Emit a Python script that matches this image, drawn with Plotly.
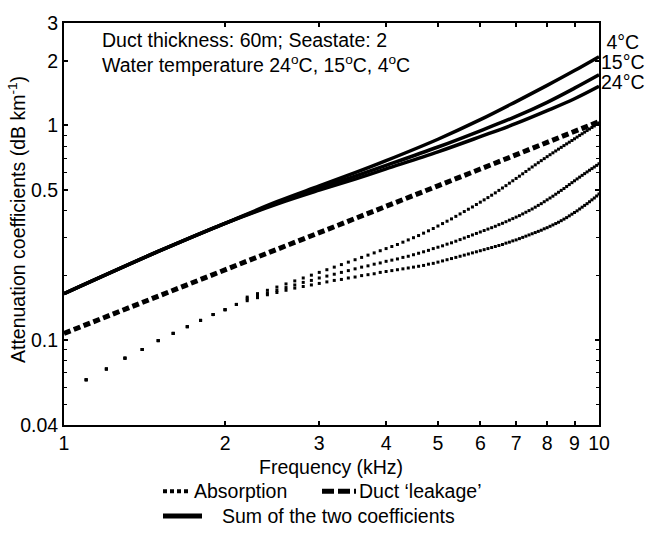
import plotly.graph_objects as go

# ---------------- data ----------------
freq_abs = [1.1, 1.2, 1.3, 1.4, 1.5, 1.6, 1.7, 1.8, 1.9, 2.0, 2.1,
            2.2, 2.3, 2.4, 2.5, 2.6, 2.7, 2.8, 2.9, 3.0, 3.1,
            3.2, 3.3, 3.4, 3.5, 3.6, 3.7, 3.8, 3.9, 4.0, 4.1,
            4.2, 4.3, 4.4, 4.5, 4.6, 4.7, 4.8, 4.9, 5.0, 5.1,
            5.2, 5.3, 5.4, 5.5, 5.6, 5.7, 5.8, 5.9, 6.0, 6.1,
            6.2, 6.3, 6.4, 6.5, 6.6, 6.7, 6.8, 6.9, 7.0, 7.1,
            7.2, 7.3, 7.4, 7.5, 7.6, 7.7, 7.8, 7.9, 8.0, 8.1,
            8.2, 8.3, 8.4, 8.5, 8.6, 8.7, 8.8, 8.9, 9.0, 9.1,
            9.2, 9.3, 9.4, 9.5, 9.6, 9.7, 9.8, 9.9, 10.0]

abs_low = [0.065, 0.073, 0.082, 0.090, 0.099, 0.107, 0.115, 0.123, 0.131, 0.138, 0.146]

abs_24_high = [0.152, 0.157, 0.162, 0.166, 0.170, 0.174, 0.177, 0.180, 0.183, 0.186,
               0.189, 0.191, 0.194, 0.196, 0.199, 0.201, 0.203, 0.206, 0.208, 0.210,
               0.212, 0.214, 0.216, 0.218, 0.220, 0.222, 0.225, 0.227, 0.230, 0.233,
               0.236, 0.239, 0.242, 0.245, 0.248, 0.251, 0.254, 0.257, 0.260, 0.263,
               0.266, 0.269, 0.272, 0.275, 0.278, 0.282, 0.285, 0.289, 0.292, 0.296,
               0.300, 0.304, 0.308, 0.312, 0.316, 0.320, 0.324, 0.329, 0.333, 0.338,
               0.343, 0.348, 0.353, 0.359, 0.365, 0.371, 0.378, 0.385, 0.392, 0.399,
               0.407, 0.415, 0.423, 0.431, 0.440, 0.449, 0.458, 0.468, 0.478]

abs_15_high = [0.155, 0.160, 0.165, 0.170, 0.175, 0.180, 0.185, 0.189, 0.194, 0.198,
               0.202, 0.206, 0.210, 0.214, 0.218, 0.221, 0.225, 0.228, 0.232, 0.235,
               0.238, 0.242, 0.245, 0.249, 0.253, 0.257, 0.261, 0.266, 0.270, 0.274,
               0.279, 0.283, 0.288, 0.293, 0.298, 0.303, 0.308, 0.313, 0.318, 0.323,
               0.328, 0.333, 0.338, 0.344, 0.349, 0.355, 0.361, 0.367, 0.373, 0.379,
               0.386, 0.393, 0.400, 0.407, 0.415, 0.423, 0.431, 0.440, 0.449, 0.458,
               0.467, 0.477, 0.487, 0.497, 0.507, 0.518, 0.529, 0.540, 0.551, 0.562,
               0.573, 0.584, 0.595, 0.606, 0.617, 0.628, 0.639, 0.650, 0.661]

abs_4_high = [0.158, 0.164, 0.170, 0.176, 0.182, 0.188, 0.194, 0.200, 0.206, 0.212,
              0.218, 0.224, 0.230, 0.236, 0.242, 0.248, 0.254, 0.260, 0.266, 0.272,
              0.278, 0.285, 0.292, 0.299, 0.306, 0.314, 0.322, 0.330, 0.339, 0.348,
              0.357, 0.366, 0.376, 0.386, 0.396, 0.406, 0.416, 0.427, 0.438, 0.449,
              0.460, 0.472, 0.484, 0.497, 0.510, 0.523, 0.537, 0.551, 0.565, 0.579,
              0.594, 0.609, 0.624, 0.639, 0.654, 0.669, 0.684, 0.699, 0.714, 0.729,
              0.744, 0.759, 0.774, 0.789, 0.804, 0.819, 0.834, 0.849, 0.865, 0.881,
              0.897, 0.913, 0.929, 0.945, 0.961, 0.977, 0.993, 1.009, 1.025]

freq_lines = [1, 1.5, 2, 2.5, 3, 3.5, 4, 5, 6, 7, 8, 9, 10]
leakage = [0.107, 0.159, 0.211, 0.263, 0.315, 0.365, 0.418, 0.522, 0.625, 0.729, 0.833, 0.937, 1.04]
sum_4 = [0.164, 0.258, 0.349, 0.440, 0.521, 0.601, 0.684, 0.861, 1.062, 1.29, 1.535, 1.80, 2.09]
sum_15 = [0.164, 0.258, 0.349, 0.433, 0.509, 0.579, 0.650, 0.792, 0.943, 1.10, 1.28, 1.49, 1.72]
sum_24 = [0.164, 0.258, 0.349, 0.429, 0.498, 0.561, 0.626, 0.752, 0.885, 1.02, 1.17, 1.33, 1.52]

temp_labels = ["4\u00b0C", "15\u00b0C", "24\u00b0C"]

x_ticks = [1, 2, 3, 4, 5, 6, 7, 8, 9, 10]
y_ticks = [0.04, 0.1, 0.5, 1, 2, 3]
y_ticktext = ["0.04", "0.1", "0.5", "1", "2", "3"]
y_minor = [0.05, 0.06, 0.07, 0.08, 0.09, 0.2, 0.3, 0.4, 0.6, 0.7, 0.8, 0.9]

FONT = "Arial, Liberation Sans, sans-serif"
FS = 19.5

fig = go.Figure()

for a_high in (abs_24_high, abs_15_high, abs_4_high):
    fig.add_trace(go.Scatter(
        x=freq_abs, y=abs_low + a_high, mode="markers",
        marker=dict(symbol="square", size=3, color="black", line=dict(width=0)),
        showlegend=False, hoverinfo="skip"))

fig.add_trace(go.Scatter(
    x=freq_lines, y=leakage, mode="lines",
    line=dict(color="black", width=5, dash="7px,3.5px"),
    showlegend=False))

for s in (sum_24, sum_15, sum_4):
    fig.add_trace(go.Scatter(
        x=freq_lines, y=s, mode="lines", line_shape="spline",
        line=dict(color="black", width=3.5), showlegend=False))

# ---------------- helpers for paper coordinates ----------------
def px2x(px):
    return (px - 64) / 535.0

def py2y(py):
    return (425 - py) / 406.0

def text(x, y, s, xanchor="left", angle=0, size=FS):
    fig.add_annotation(xref="paper", yref="paper", x=x, y=y, text=s,
                       showarrow=False, xanchor=xanchor, yanchor="middle",
                       textangle=angle,
                       font=dict(family=FONT, size=size, color="black"))

# ---------------- legend (drawn below the plot) ----------------
legend_items = [
    (163, 190, 492, dict(width=4, dash="4px,3px"), "Absorption", 192),
    (322, 356, 492, dict(width=5, dash="12px,4px"), "Duct \u2018leakage\u2019", 357),
    (163, 202, 517, dict(width=5), "Sum of the two coefficients", 220),
]
for x0, x1, yy, ln, txt, tx in legend_items:
    fig.add_shape(type="line", xref="paper", yref="paper",
                  x0=px2x(x0), x1=px2x(x1), y0=py2y(yy), y1=py2y(yy),
                  line=dict(color="black", **ln))
    text(px2x(tx), py2y(yy), txt)

# ---------------- text annotations ----------------
text(px2x(100), py2y(36), "Duct thickness: 60m; Seastate: 2")
text(px2x(100), py2y(60),
     "Water temperature 24<sup>o</sup>C, 15<sup>o</sup>C, 4<sup>o</sup>C")

# temperature labels at the right end of the sum curves (one block, tight line spacing)
right_block = "<br>".join("<span style='font-size:19.5px'>%s</span>" % t for t in temp_labels)
text(px2x(623), py2y(58), right_block, xanchor="center", size=15.4)

text(px2x(331), py2y(467), "Frequency (kHz)", xanchor="center")
text(px2x(17), py2y(218), "Attenuation coefficients (dB km<sup>-1</sup>)",
     xanchor="center", angle=-90)

axis_common = dict(
    type="log", showgrid=False, zeroline=False,
    showline=True, linecolor="black", linewidth=2, mirror="ticks",
    ticks="inside", ticklen=4, tickwidth=1.5, tickcolor="black",
    tickfont=dict(family=FONT, size=FS, color="black"),
)

fig.update_xaxes(**axis_common, range=[0, 1], tickvals=x_ticks,
                 ticktext=[str(v) for v in x_ticks])
fig.update_yaxes(**axis_common, range=[-1.39794, 0.4771213], tickvals=y_ticks,
                 ticktext=y_ticktext,
                 minor=dict(tickvals=y_minor, ticks="inside", ticklen=3,
                            tickcolor="black", tickwidth=1))

fig.update_layout(
    width=645, height=539,
    margin=dict(l=64, r=46, t=19, b=114),
    paper_bgcolor="white", plot_bgcolor="white",
    showlegend=False,
)

fig.write_html("out.html")
